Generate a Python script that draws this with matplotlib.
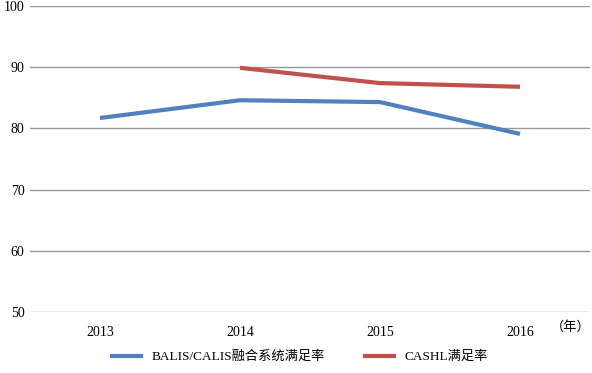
import matplotlib.pyplot as plt
from matplotlib.lines import Line2D

years = ["2013", "2014", "2015", "2016"]
balis_calis = [81.7, 84.6, 84.3, 79.1]
cashl = [None, 89.9, 87.4, 86.8]

blue = "#4F81BD"
red = "#C0504D"

plt.rcParams["font.family"] = ["Liberation Serif", "Noto Sans CJK SC"]

fig = plt.figure(figsize=(5.92, 3.73), dpi=100)
ax = fig.add_axes([30 / 592, 1 - 312 / 373, 560 / 592, 306 / 373])

x = list(range(len(years)))
ax.plot(x, balis_calis, color=blue, lw=3, solid_capstyle="butt")
cx = [i for i, v in zip(x, cashl) if v is not None]
cy = [v for v in cashl if v is not None]
ax.plot(cx, cy, color=red, lw=3, solid_capstyle="butt")

ax.set_xlim(-0.5, 3.5)
ax.set_ylim(50, 100)
ax.set_yticks(range(50, 101, 10))
ax.set_xticks(x)
ax.set_xticklabels(years)
ax.yaxis.grid(True, color="#999999", lw=1)
ax.set_axisbelow(True)
for s in ax.spines.values():
    s.set_visible(False)
ax.tick_params(axis="both", length=0, labelsize=10, colors="black")
ax.tick_params(axis="x", pad=10)
ax.tick_params(axis="y", pad=4)

fig.text(591 / 592, 1 - 327 / 373, "（年）", fontsize=9.5, ha="right", va="center",
         family=["Noto Sans CJK SC"], color="black")

handles = [Line2D([], [], color=blue, lw=3), Line2D([], [], color=red, lw=3)]
labels = ["BALIS/CALIS融合系统满足率", "CASHL满足率"]
fig.legend(handles, labels, loc="center", bbox_to_anchor=(300 / 592, 1 - 357 / 373),
           ncol=2, frameon=False, fontsize=9.5, handlelength=2.2, columnspacing=3.0,
           handletextpad=0.8)

fig.savefig("out.png", dpi=100)
